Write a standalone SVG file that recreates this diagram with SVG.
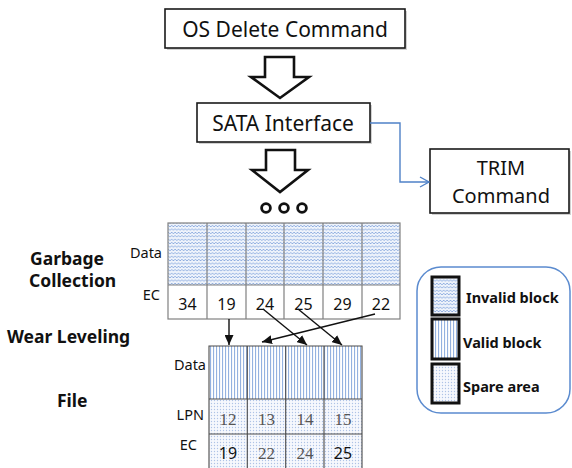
<svg xmlns="http://www.w3.org/2000/svg" width="572" height="468" viewBox="0 0 572 468">
  <style>
    .box { fill: #ffffff; stroke: #1a1a1a; stroke-width: 1.6; }
    .shadow { fill: #000000; opacity: 0.18; }
    .big { font-family: "Noto Sans", "Open Sans", sans-serif; font-size: 21px; fill: #111; }
    .mid { font-family: "Noto Sans", "Open Sans", sans-serif; font-size: 20px; fill: #111; }
    .bold { font-family: "Noto Sans", "Open Sans", sans-serif; font-weight: bold; font-size: 17.5px; fill: #111; }
    .lbl { font-family: "Noto Sans", "Open Sans", sans-serif; font-size: 14.5px; fill: #111; }
    .num { font-family: "Noto Sans", "Open Sans", sans-serif; font-size: 16px; fill: #111; }
    .ser { font-family: "Liberation Serif", serif; font-size: 17px; fill: #555; }
    .leg { font-family: "Noto Sans", "Open Sans", sans-serif; font-weight: bold; font-size: 14.5px; fill: #111; }
    .hollow { fill: #ffffff; stroke: #111; stroke-width: 2.6; stroke-linejoin: miter; }
    .grid1 { fill: none; stroke: #808080; stroke-width: 1.2; }
    .grid2 { fill: none; stroke: #4a4a4a; stroke-width: 1.1; }
    .move { stroke: #111; stroke-width: 1.4; fill: none; marker-end: url(#head); }
    .swatch { stroke: #111; stroke-width: 3; }
  </style>
  <defs>
    <pattern id="zig" width="3.4" height="3.4" patternUnits="userSpaceOnUse">
      <rect width="3.4" height="3.4" fill="#eef3fb"/>
      <path d="M0 2.6 L1.7 0.9 L3.4 2.6" fill="none" stroke="#86a8dd" stroke-width="0.85"/>
    </pattern>
    <pattern id="vert" width="3" height="3" patternUnits="userSpaceOnUse">
      <rect width="3" height="3" fill="#ffffff"/>
      <rect x="0" width="1.1" height="3" fill="#94b2e0"/>
    </pattern>
    <pattern id="dots" width="3" height="3" patternUnits="userSpaceOnUse">
      <rect width="3" height="3" fill="#f6f8fd"/>
      <circle cx="1.5" cy="1.5" r="0.65" fill="#aec3e6"/>
    </pattern>
    <marker id="head" markerUnits="userSpaceOnUse" markerWidth="10" markerHeight="9" refX="10" refY="4.5" orient="auto">
      <path d="M0 0 L10 4.5 L0 9 Z" fill="#111"/>
    </marker>
    <marker id="open" markerUnits="userSpaceOnUse" markerWidth="11" markerHeight="12" refX="10" refY="6" orient="auto">
      <path d="M1 1 L10 6 L1 11" fill="none" stroke="#4f81c7" stroke-width="1.4"/>
    </marker>
  </defs>

  <!-- command flow -->
  <g id="os-delete">
    <rect class="shadow" x="167" y="11" width="240" height="39"/>
    <rect class="box" x="165" y="9" width="240" height="39"/>
    <text class="big" x="285" y="37" text-anchor="middle">OS Delete Command</text>
  </g>
  <g id="arrow-1">
    <path class="hollow" d="M265 57 H294 V77 H309 L280 98 L251 77 H265 Z"/>
  </g>
  <g id="sata">
    <rect class="shadow" x="199" y="105" width="173" height="39"/>
    <rect class="box" x="197" y="103" width="173" height="39"/>
    <text class="big" x="283" y="131" text-anchor="middle">SATA Interface</text>
  </g>
  <g id="arrow-2">
    <path class="hollow" d="M266 150 H295 V170 H308 L280 192 L252 170 H266 Z"/>
  </g>
  <g id="ellipsis" fill="none" stroke="#111" stroke-width="2.8">
    <circle cx="266" cy="208" r="4.4"/>
    <circle cx="284" cy="208" r="4.4"/>
    <circle cx="302" cy="208" r="4.4"/>
  </g>
  <g id="trim">
    <rect class="shadow" x="432" y="151" width="139" height="64"/>
    <rect class="box" x="430" y="149" width="139" height="64"/>
    <text class="mid" x="501" y="175" text-anchor="middle">TRIM</text>
    <text class="mid" x="501" y="203" text-anchor="middle">Command</text>
  </g>

  <!-- stage labels -->
  <g id="stage-labels">
    <text class="bold" x="30" y="265">Garbage</text>
    <text class="bold" x="29" y="287">Collection</text>
    <text class="bold" x="7" y="343">Wear Leveling</text>
    <text class="bold" x="57" y="407">File</text>
  </g>

  <!-- source blocks -->
  <g id="source-blocks">
    <rect x="168" y="223" width="232" height="62" fill="url(#zig)"/>
    <rect x="168" y="285" width="232" height="34" fill="#ffffff"/>
    <rect class="grid1" x="168" y="223" width="232" height="96"/>
    <path class="grid1" d="M168 285 H400 M207 223 V319 M246 223 V319 M284 223 V319 M323 223 V319 M362 223 V319"/>
    <text class="lbl" x="162" y="258" text-anchor="end">Data</text>
    <text class="lbl" x="160" y="300" text-anchor="end">EC</text>
    <g class="num" text-anchor="middle">
      <text x="187.5" y="310">34</text>
      <text x="226.5" y="310">19</text>
      <text x="265" y="310">24</text>
      <text x="303.5" y="310">25</text>
      <text x="342.5" y="310">29</text>
      <text x="381" y="310">22</text>
    </g>
  </g>

  <!-- destination blocks -->
  <g id="file-blocks">
    <rect x="209" y="346" width="153" height="53" fill="url(#vert)"/>
    <rect x="209" y="399" width="153" height="72" fill="url(#dots)"/>
    <path class="grid2" d="M209 471 V346 H362 V471 M209 399 H362 M209 434 H362 M247.3 346 V471 M285.7 346 V471 M324 346 V471"/>
    <text class="lbl" x="206" y="370" text-anchor="end">Data</text>
    <text class="lbl" x="204" y="420" text-anchor="end">LPN</text>
    <text class="lbl" x="197" y="450" text-anchor="end">EC</text>
    <g class="ser" text-anchor="middle">
      <text x="228" y="425">12</text>
      <text x="266.5" y="425">13</text>
      <text x="305" y="425">14</text>
      <text x="343" y="425">15</text>
      <text x="266.5" y="459">22</text>
      <text x="305" y="459">24</text>
    </g>
    <g class="num" text-anchor="middle">
      <text x="228" y="459">19</text>
      <text x="343" y="459">25</text>
    </g>
  </g>

  <!-- legend -->
  <g id="legend">
    <rect x="417" y="267" width="153" height="146" rx="24" ry="24" fill="#ffffff" stroke="#5b8bcf" stroke-width="1.5"/>
    <rect class="swatch" x="432" y="277" width="27" height="38" fill="url(#zig)"/>
    <rect class="swatch" x="432" y="319" width="27" height="40" fill="url(#vert)"/>
    <rect class="swatch" x="432" y="364" width="27" height="39" fill="url(#dots)"/>
    <text class="leg" x="466" y="303">Invalid block</text>
    <text class="leg" x="463" y="348">Valid block</text>
    <text class="leg" x="463" y="392">Spare area</text>
  </g>

  <!-- connectors -->
  <g id="connectors">
    <path d="M370 123 H400 V182 H429" fill="none" stroke="#4f81c7" stroke-width="1.4" marker-end="url(#open)"/>
    <path class="move" d="M229 319 V345"/>
    <path class="move" d="M263 309 L307 345"/>
    <path class="move" d="M298 309 L342 345"/>
    <path class="move" d="M375 314 L262 342"/>
  </g>
</svg>
